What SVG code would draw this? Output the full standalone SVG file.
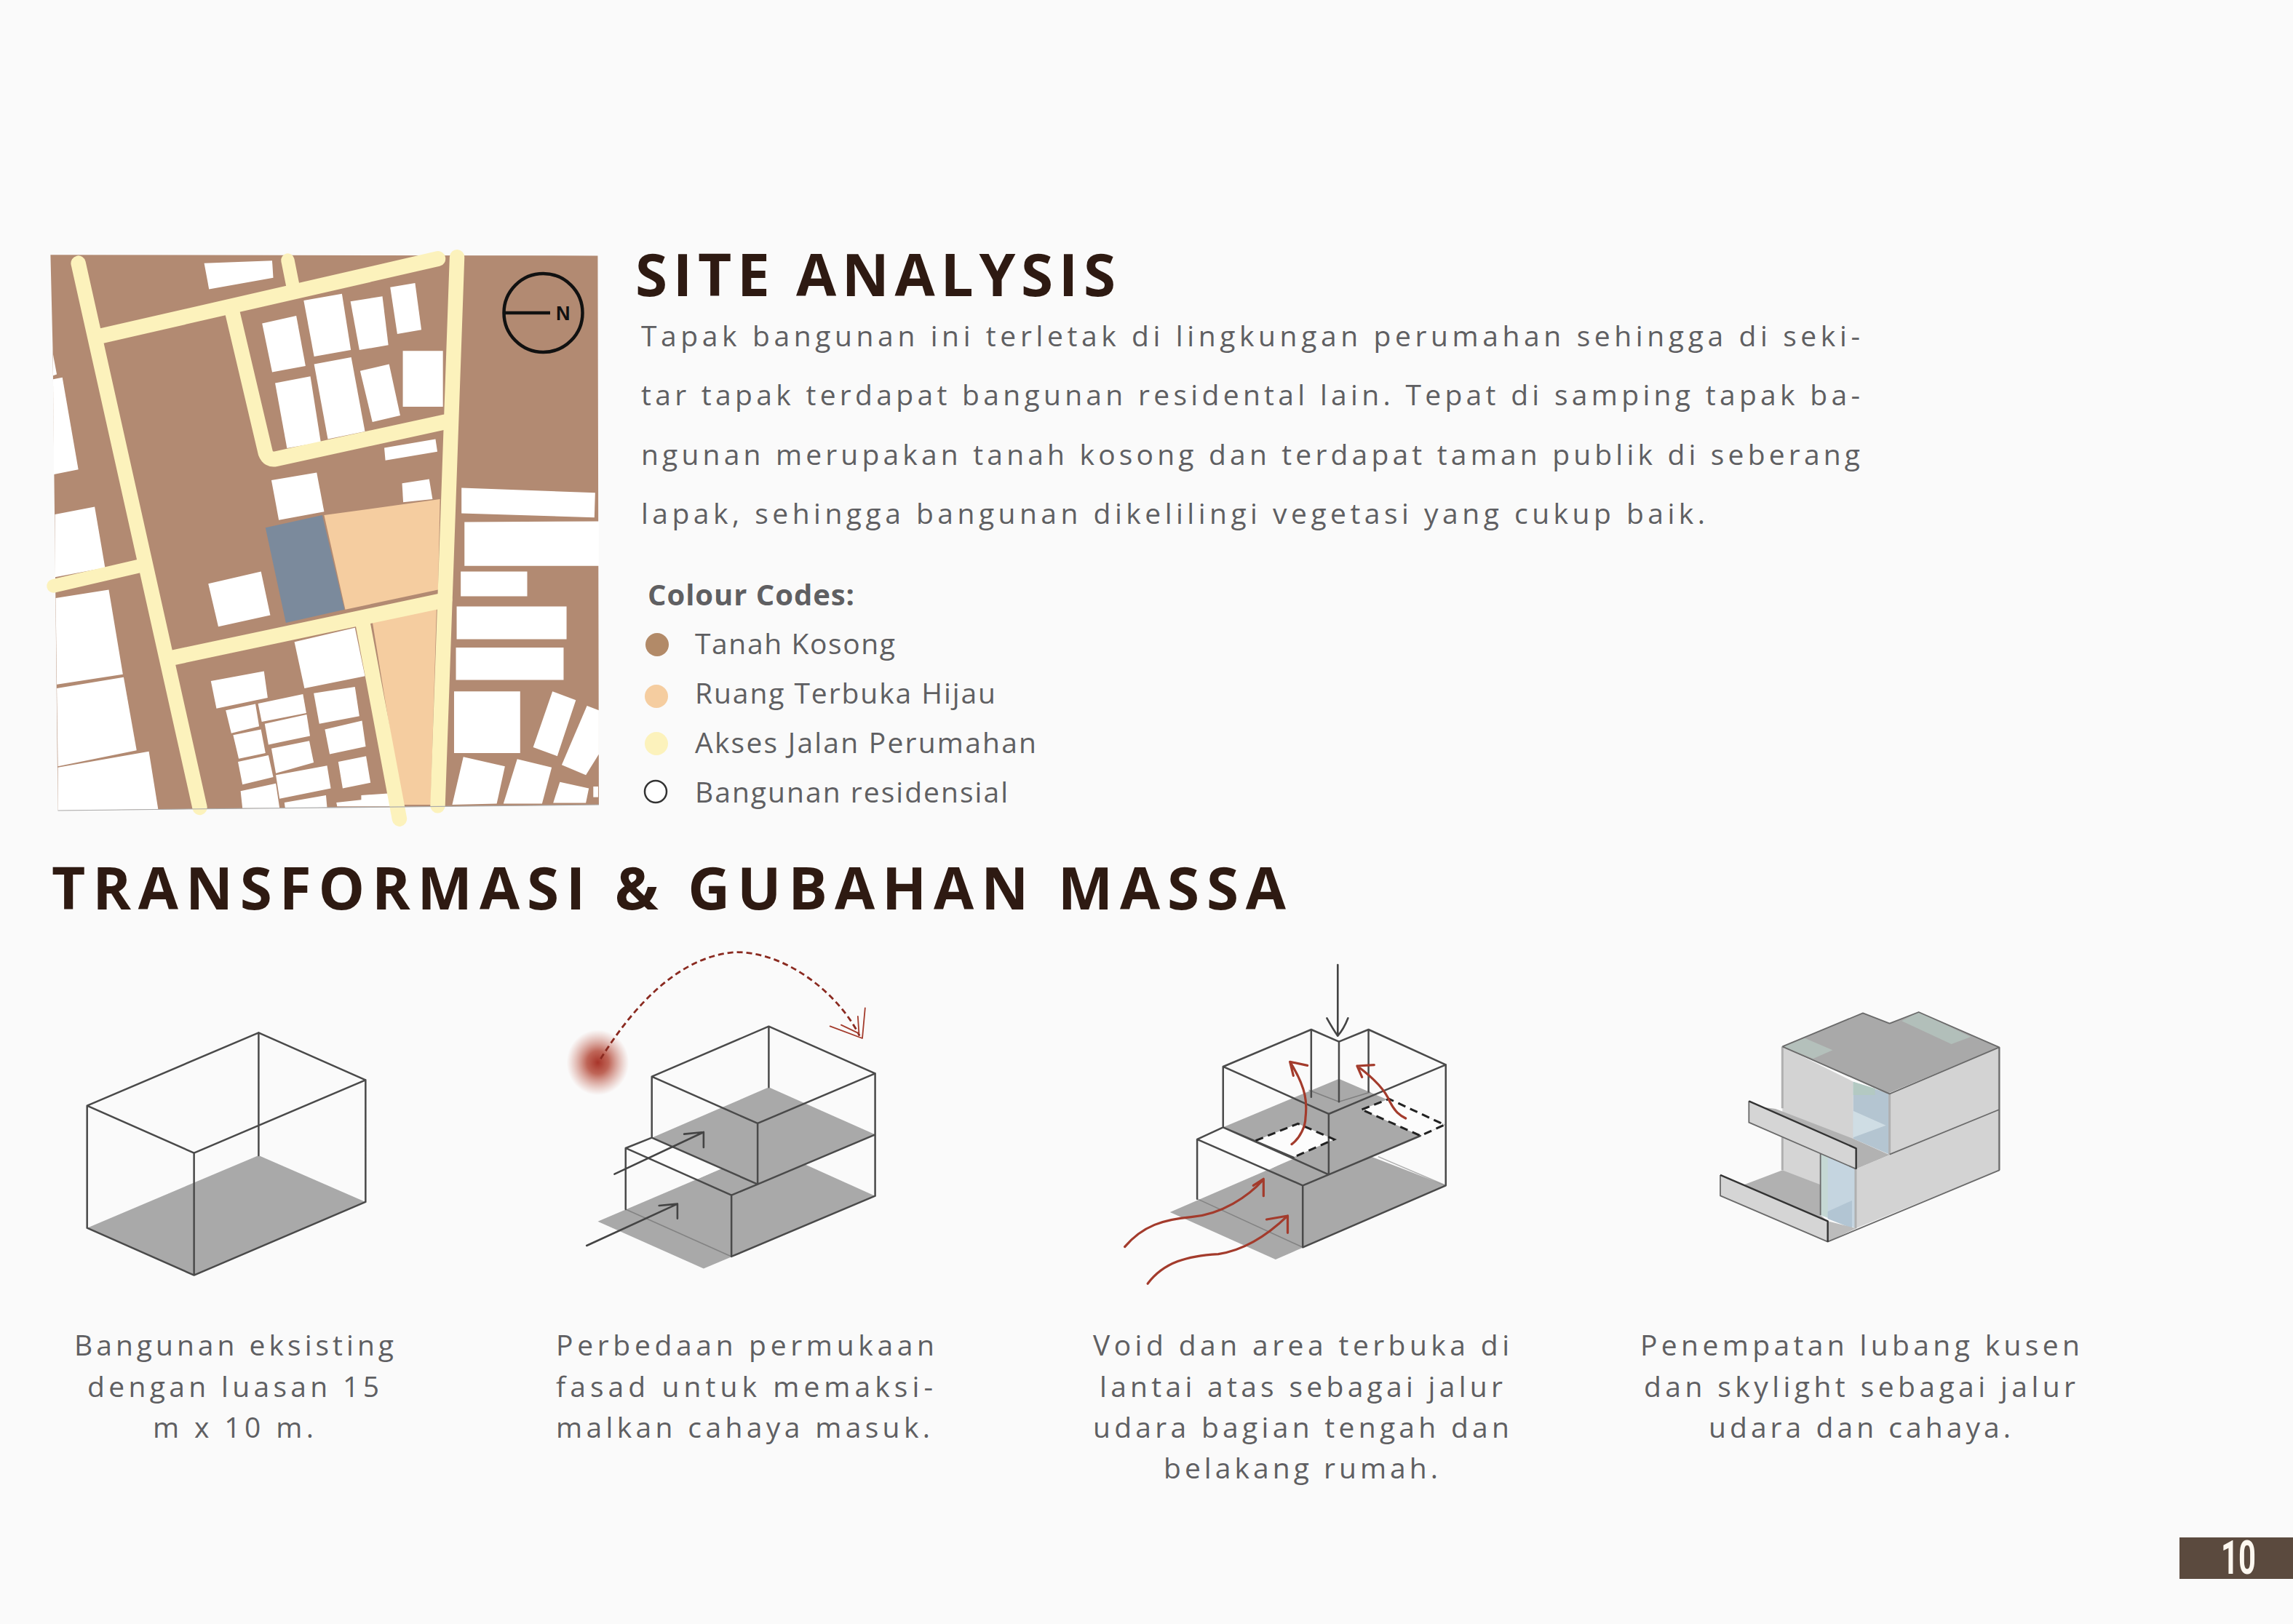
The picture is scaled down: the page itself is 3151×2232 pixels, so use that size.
<svg xmlns="http://www.w3.org/2000/svg" width="3151" height="2232" viewBox="0 0 3151 2232">
<style>
text{font-family:"Open Sans","Noto Sans","Liberation Sans",sans-serif}
.h{font-size:80px;font-weight:700;fill:#2e1a12}
.b{font-size:39px;fill:#5f5f62}
.lg{font-size:40px;font-weight:700;fill:#5f5f62}
.w{fill:#fff}
.r{fill:none;stroke:#fcf2bc;stroke-linecap:round;stroke-linejoin:round}
.l{fill:none;stroke:#4a4a4a;stroke-width:2.5;vector-effect:non-scaling-stroke;stroke-linecap:round;stroke-linejoin:round}
.t{fill:none;stroke:#555;stroke-width:1.5;vector-effect:non-scaling-stroke}
.f{fill:#a9a9a9}
.s{fill:#fcfcfc}
.a{fill:none;stroke:#444;stroke-width:2.6;vector-effect:non-scaling-stroke;stroke-linecap:round;stroke-linejoin:round}
.c{fill:none;stroke:#a33b2c;stroke-width:3.2;vector-effect:non-scaling-stroke;stroke-linecap:round;stroke-linejoin:round}
.d{fill:none;stroke:#222;stroke-width:3;stroke-dasharray:11 7;vector-effect:non-scaling-stroke}
.e{fill:none;stroke:#6a6a6a;stroke-width:1.8;vector-effect:non-scaling-stroke;stroke-linejoin:round}
.ev{fill:none;stroke:#b0b0b0;stroke-width:3;vector-effect:non-scaling-stroke}
.ek{fill:none;stroke:#333;stroke-width:2.4;vector-effect:non-scaling-stroke;stroke-linejoin:round}
</style>
<defs>
<radialGradient id="sun"><stop offset="0" stop-color="#a8352a"/><stop offset=".35" stop-color="#b0402f" stop-opacity=".8"/><stop offset="1" stop-color="#c8705f" stop-opacity="0"/></radialGradient>
</defs>
<rect width="3151" height="2232" fill="#fafafa"/>

<g id="site-map" transform="translate(50 320) scale(.5102 .523)">
<polygon points="38,58 1512,60 1515,1503 58,1518 44,300" fill="#b28a72"/>
<g class="w">
<polygon points="452,80 635,73 638,118 465,148"/><polygon points="608,238 700,218 725,350 635,366"/><polygon points="720,178 823,160 847,308 748,325"/><polygon points="846,180 932,167 948,295 870,308"/><polygon points="953,143 1020,132 1037,255 972,266"/><polygon points="643,395 738,377 766,550 675,566"/><polygon points="748,345 848,327 885,522 785,542"/><polygon points="872,363 950,345 980,480 905,497"/><polygon points="987,310 1095,310 1095,457 987,457"/><polygon points="937,565 1075,542 1080,575 940,598"/><polygon points="633,650 755,630 775,733 653,755"/><polygon points="985,658 1058,647 1067,700 988,708"/><polygon points="463,922 605,890 630,1005 490,1035"/>
<polygon points="45,320 55,372 45,375"/><polygon points="45,385 70,380 113,622 47,635"/><polygon points="50,740 157,720 185,880 50,905"/><polygon points="52,960 195,938 233,1160 55,1187"/><polygon points="55,1197 235,1168 270,1360 58,1402"/><polygon points="58,1405 303,1363 328,1515 58,1518"/>
<polygon points="1145,670 1505,683 1503,748 1145,737"/><polygon points="1153,760 1515,758 1515,875 1153,875"/><polygon points="1143,890 1322,890 1322,955 1143,955"/><polygon points="1132,982 1428,982 1428,1068 1132,1068"/><polygon points="1130,1090 1420,1090 1420,1175 1130,1175"/><polygon points="1125,1205 1303,1205 1303,1367 1125,1367"/><polygon points="1390,1205 1453,1228 1403,1375 1338,1352"/><polygon points="1483,1243 1515,1255 1515,1370 1480,1425 1415,1398"/><polygon points="1150,1377 1262,1402 1240,1500 1120,1503"/><polygon points="1295,1383 1388,1405 1362,1500 1258,1500"/><polygon points="1410,1443 1488,1460 1480,1498 1392,1498"/><polygon points="1500,1455 1513,1455 1513,1483 1500,1483"/>
<polygon points="695,1075 858,1038 885,1165 722,1197"/><polygon points="470,1178 613,1152 623,1222 485,1250"/><polygon points="510,1255 590,1238 600,1297 525,1315"/><polygon points="597,1237 718,1212 727,1262 607,1285"/><polygon points="747,1210 858,1193 870,1270 762,1290"/><polygon points="615,1290 728,1266 737,1322 625,1345"/><polygon points="530,1320 605,1305 617,1367 545,1382"/><polygon points="777,1305 877,1282 887,1350 790,1370"/><polygon points="633,1355 735,1335 747,1392 645,1420"/><polygon points="543,1390 625,1373 638,1430 555,1450"/><polygon points="645,1425 783,1400 793,1460 655,1487"/><polygon points="813,1390 888,1375 900,1445 825,1460"/><polygon points="550,1467 645,1447 655,1512 555,1512"/><polygon points="668,1497 780,1478 783,1510 670,1512"/><polygon points="808,1497 875,1490 875,1478 968,1472 972,1507 810,1507"/>
</g>
<polygon points="775,742 1087,700 1082,938 832,990" fill="#f5cda0"/>
<polygon points="905,1022 1078,982 1062,1503 985,1503" fill="#f5cda0"/>
<polygon points="617,775 770,742 830,990 672,1025" fill="#7b8a9c"/>
<g class="r">
<path d="M113 80L440 1510" stroke-width="40"/>
<path d="M170 272L1082 68" stroke-width="40"/>
<path d="M677 72L692 145" stroke-width="36"/>
<path d="M527 205L617 578Q625 598 645 594L1100 497" stroke-width="40"/>
<path d="M1133 64L1081 1505" stroke-width="40"/>
<path d="M360 1118L1100 965" stroke-width="40"/>
<path d="M46 928L280 875" stroke-width="36"/>
<path d="M880 1030L978 1540" stroke-width="40"/>
</g>
<polyline points="58,1518 1515,1503" fill="none" stroke="#aaa" stroke-width="2"/>
</g>
<g id="compass">
<circle cx="746.5" cy="430" r="54" fill="none" stroke="#111" stroke-width="4.5"/>
<line x1="694" y1="430" x2="756" y2="430" stroke="#111" stroke-width="4.5"/>
<text x="764" y="440" font-size="27" font-weight="700" fill="#111" style="font-family:'Liberation Sans',sans-serif">N</text>
</g>

<g id="site-text">
<text class="h" x="873" y="407" textLength="660">SITE ANALYSIS</text>
<text class="b" x="881" y="476" textLength="1675">Tapak bangunan ini terletak di lingkungan perumahan sehingga di seki-</text>
<text class="b" x="881" y="557" textLength="1675">tar tapak terdapat bangunan residental lain. Tepat di samping tapak ba-</text>
<text class="b" x="881" y="639" textLength="1675">ngunan merupakan tanah kosong dan terdapat taman publik di seberang</text>
<text class="b" x="881" y="720" textLength="1462">lapak, sehingga bangunan dikelilingi vegetasi yang cukup baik.</text>
</g>

<g id="legend">
<text class="lg" x="890" y="832" textLength="284">Colour Codes:</text>
<circle cx="903" cy="886" r="16" fill="#b28a68"/>
<text class="b" x="955" y="899" textLength="275">Tanah Kosong</text>
<circle cx="902" cy="957" r="16" fill="#f5cda0"/>
<text class="b" x="955" y="967" textLength="413">Ruang Terbuka Hijau</text>
<circle cx="902" cy="1022" r="16" fill="#fcf2bc"/>
<text class="b" x="955" y="1035" textLength="469">Akses Jalan Perumahan</text>
<circle cx="901" cy="1088" r="15" fill="#fff" stroke="#333" stroke-width="2.5"/>
<text class="b" x="955" y="1103" textLength="430">Bangunan residensial</text>
</g>

<g id="section-title"><text class="h" x="71" y="1250" textLength="1696">TRANSFORMASI &amp; GUBAHAN MASSA</text></g>

<g id="massing-1" transform="translate(60 1282) scale(.7653 .3333)">
<polygon class="f" points="78,1217 386,918 578,1110 270,1412"/>
<path class="l" d="M78 713L386 412L578 607L270 908ZM78 713V1217L270 1412L578 1110V607M270 908V1412M386 412V918"/>
</g>

<g id="massing-2" transform="translate(60 1282) scale(.7653 .3333)">
<polygon class="f" points="995,1190 1303,889 1493,1085 1185,1385"/>
<polygon class="f" points="1302,637 1493,832 1282,1037 1092,845"/>
<polygon class="s" points="1045,888 1092,845 1215,973 1170,1020"/>
<path class="l" d="M1092 593L1302 386L1493 580L1282 786ZM1092 593V845L1282 1037V786M1302 386V637M1493 580V1085L1235 1335M1493 832L1282 1037L1235 1082L1045 888L1092 845M1045 888V1140M1235 1082V1335"/>
<path d="M1045 1140L1235 1335" class="t" stroke-opacity=".45"/>
<path class="a" d="M1025 995L1185 822M1150 830L1185 822V885M975 1290L1138 1118M1105 1125L1138 1118V1178"/>
<ellipse cx="995" cy="535" rx="56" ry="135" fill="url(#sun)"/>
<path d="M1000 520C1060 300 1140 100 1240 80C1335 75 1430 260 1465 425" fill="none" stroke="#8a2a20" stroke-width="2.8" stroke-dasharray="8 5" vector-effect="non-scaling-stroke"/>
<path class="c" d="M1475 310L1470 435L1412 385M1462 345L1464 415L1432 380" style="stroke-width:1.8"/>
</g>

<g id="massing-3">
<g transform="translate(1500 1301) scale(.8292 .3333)">
<polygon class="f" points="130,1095 400,805 587,985 305,1290"/>
<polygon class="f" points="218,745 410,545 587,735 393,940"/>
<polygon class="s" points="175,795 218,745 335,870 290,925"/>
<polygon class="s" points="272,800 342,730 402,795 335,868"/>
<polygon class="s" points="448,672 493,628 585,735 545,780"/>
<path class="t" d="M360 592L410 640L462 600" stroke-opacity=".5"/>
<path class="l" d="M218 495L364 342L410 392L459 342L587 487L393 690ZM218 495V745L393 940V690M364 342V620M459 342V598M587 487V985L350 1240M393 940L350 985L175 795L218 745L335 870M175 795V1040M350 985V1240M393 940L545 780"/>
<path class="l" d="M410 392V640"/>
<path class="t" d="M175 1040L350 1240M475 866L587 985" stroke-opacity=".45"/>
<path class="d" d="M272 800L342 730L402 795L335 868M448 672L493 628L585 735L545 780L448 672"/>
<path class="a" d="M408 75V365M390 295Q400 340 408 368Q418 340 425 295"/>
<path class="c" d="M55 1238C85 1150 120 1125 165 1115C215 1105 260 1030 285 960M268 985L285 958L285 1028M93 1390C120 1300 160 1275 210 1268C260 1250 300 1170 325 1110M290 1125L325 1110L325 1180"/>
</g>
<g transform="translate(1640 1401) scale(.3333)">
<path class="c" d="M405 515C440 490 462 440 462 405C468 350 470 290 398 175M470 190L398 175L412 232M875 408C850 395 830 380 810 340C790 290 740 240 675 192M745 188L675 192L695 238"/>
</g>
</g>

<g id="massing-4" transform="translate(2340 1380) scale(.3333)">
<polygon points="328,175 620,320 620,565 328,470" fill="#d3d3d3"/>
<polygon points="620,320 770,370 770,620 620,555" fill="#b4c5d1"/>
<polygon points="620,320 710,348 710,375 620,375" fill="#b3c9c2"/>
<polygon points="620,440 755,500 620,550" fill="#cfdde4"/>
<polygon points="770,370 1222,178 1222,435 770,620" fill="#d3d3d3"/>
<polygon points="630,680 1222,435 1222,685 630,925" fill="#d3d3d3"/>
<polygon points="328,540 485,610 485,770 328,685" fill="#d5d5d5"/>
<polygon points="485,615 632,680 632,925 485,870" fill="#c5d5e0"/>
<polygon points="485,615 515,628 515,880 485,870" fill="#c5d8d4"/>
<polygon points="515,855 615,810 615,925 515,885" fill="#b2c5d3"/>
<polygon points="328,685 485,745 485,870 515,895 170,745" fill="#b1b1b1"/>
<polygon points="515,895 632,925 515,980" fill="#bcbcbc"/>
<polygon points="300,432 620,555 770,622 630,680 632,595 250,425" fill="#b2b2b2"/>
<polygon points="190,400 632,595 632,680 190,488" fill="#d5d5d5"/>
<polygon points="72,705 515,895 515,980 72,790" fill="#d5d5d5"/>
<polygon points="328,175 660,37 770,80 890,33 1222,178 760,370" fill="#a9a9a9"/>
<polygon points="420,140 535,190 455,225 330,175" fill="#b4c0bb"/>
<polygon points="820,70 890,33 1105,135 1025,165" fill="#b2bfba"/>
<path class="ev" d="M770 370V620M630 680V925M328 175V430M328 550V685M1222 178V685"/>
<path class="e" d="M328 175L660 37L770 80L890 33L1222 178V685L515 980L72 790V705M1222 178L770 370L328 175M770 620L1222 435M485 615V870M190 400V488L632 680"/>
<path class="ek" d="M190 400L632 595V680M72 705L515 895V980"/>
</g>

<g id="captions">
<text class="b" x="102" y="1863" textLength="439">Bangunan eksisting</text>
<text class="b" x="120" y="1920" textLength="401">dengan luasan 15</text>
<text class="b" x="210" y="1976" textLength="221">m x 10 m.</text>
<text class="b" x="764" y="1863" textLength="520">Perbedaan permukaan</text>
<text class="b" x="764" y="1920" textLength="518">fasad untuk memaksi-</text>
<text class="b" x="764" y="1976" textLength="514">malkan cahaya masuk.</text>
<text class="b" x="1502" y="1863" textLength="572">Void dan area terbuka di</text>
<text class="b" x="1511" y="1920" textLength="554">lantai atas sebagai jalur</text>
<text class="b" x="1502" y="1976" textLength="572">udara bagian tengah dan</text>
<text class="b" x="1599" y="2032" textLength="377">belakang rumah.</text>
<text class="b" x="2254" y="1863" textLength="604">Penempatan lubang kusen</text>
<text class="b" x="2259" y="1920" textLength="593">dan skylight sebagai jalur</text>
<text class="b" x="2348" y="1976" textLength="415">udara dan cahaya.</text>
</g>

<g id="page-number">
<rect x="2995" y="2113" width="156" height="57" fill="#5b4a3e"/>
<text x="3052" y="2163" font-size="64" font-weight="700" fill="#fdf8f0" textLength="48" lengthAdjust="spacingAndGlyphs" style="font-family:Roboto,sans-serif">10</text>
</g>
</svg>
